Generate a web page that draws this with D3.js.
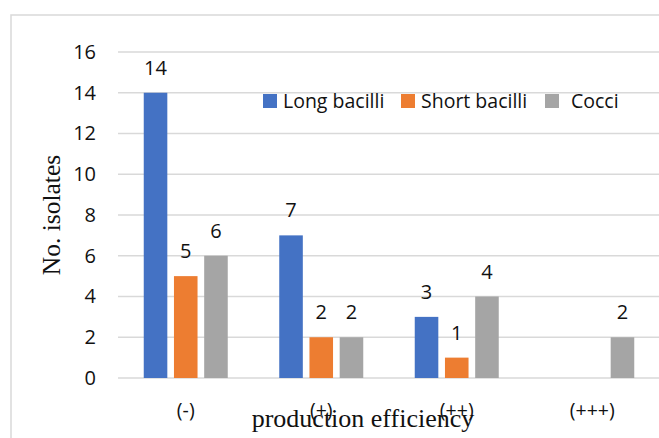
<!DOCTYPE html>
<html><head><meta charset="utf-8">
<script src="https://cdn.jsdelivr.net/npm/d3@7"></script>
<style>body{margin:0;background:#fff}svg{display:block}</style>
</head><body>
<svg id="c" width="659" height="438"></svg>
<script>
const categories = ["(-)", "(+)", "(++)", "(+++)"];
const seriesNames = ["Long bacilli", "Short bacilli", "Cocci"];
const longBacilli = [14, 7, 3, null];
const shortBacilli = [5, 2, 1, null];
const cocci = [6, 2, 4, 2];
const yTicks = [0, 2, 4, 6, 8, 10, 12, 14, 16];
const colors = ["#4472C4", "#ED7D31", "#A5A5A5"];
const series = [longBacilli, shortBacilli, cocci];

const svg = d3.select("#c");
const font = "'Open Sans', Lato, sans-serif";
const serif = "'Liberation Serif', 'DejaVu Serif', serif";
const fs = 19.5;

// chart border
svg.append("rect").attr("x", 11).attr("y", 15).attr("width", 700).attr("height", 500)
  .attr("fill", "none").attr("stroke", "#d9d9d9").attr("stroke-width", 1.5);

const pLeft = 118, pRight = 660, pTop = 52, pBottom = 378;
const y = d3.scaleLinear().domain([0, 16]).range([pBottom, pTop]);
const x0 = d3.scaleBand().domain(categories).range([pLeft, pRight]).paddingInner(0.38).paddingOuter(0.19);
const x1 = d3.scaleBand().domain(seriesNames).range([0, x0.bandwidth()]).paddingInner(0.22);

// gridlines
svg.append("g").selectAll("line").data(yTicks).join("line")
  .attr("x1", pLeft).attr("x2", pRight)
  .attr("y1", d => y(d)).attr("y2", d => y(d))
  .attr("stroke", "#d9d9d9").attr("stroke-width", 1.3);

// y axis labels
const yAxis = d3.axisLeft(y).tickValues(yTicks).tickSize(0).tickPadding(0);
const ya = svg.append("g").attr("transform", `translate(96,0)`).call(yAxis);
ya.select(".domain").remove();
ya.selectAll("text").attr("font-family", font).attr("font-size", 20).attr("fill", "#111");

// x axis labels
const xAxis = d3.axisBottom(x0).tickSize(0).tickPadding(0);
const xa = svg.append("g").attr("transform", `translate(0,${pBottom + 25})`).call(xAxis);
xa.select(".domain").remove();
xa.selectAll("text").attr("font-family", font).attr("font-size", fs).attr("fill", "#111");

// bars
const flat = [];
categories.forEach((c, i) => series.forEach((s, j) => {
  if (s[i] != null) flat.push({c, name: seriesNames[j], v: s[i], color: colors[j]});
}));
svg.append("g").selectAll("rect").data(flat).join("rect")
  .attr("x", d => x0(d.c) + x1(d.name))
  .attr("y", d => y(d.v))
  .attr("width", x1.bandwidth())
  .attr("height", d => y(0) - y(d.v))
  .attr("fill", d => d.color);

// data labels
svg.append("g").selectAll("text").data(flat).join("text")
  .attr("x", d => x0(d.c) + x1(d.name) + x1.bandwidth() / 2)
  .attr("y", d => y(d.v) - 18)
  .attr("text-anchor", "middle")
  .attr("font-family", font).attr("font-size", 20).attr("fill", "#111")
  .text(d => d.v);

// legend
const legendX = [263, 401, 545];
const legendTextX = [283, 421, 571];
const lg = svg.append("g");
seriesNames.forEach((n, j) => {
  lg.append("rect").attr("x", legendX[j]).attr("y", 94).attr("width", 14).attr("height", 14).attr("fill", colors[j]);
  lg.append("text").attr("x", legendTextX[j]).attr("y", 108)
    .attr("font-family", font).attr("font-size", fs).attr("fill", "#111").text(n);
});

// axis titles
svg.append("text").attr("transform", "translate(60,215) rotate(-90)")
  .attr("text-anchor", "middle").attr("font-family", serif).attr("font-size", 25.5).attr("fill", "#111")
  .text("No. isolates");
svg.append("text").attr("x", 363).attr("y", 427)
  .attr("text-anchor", "middle").attr("font-family", serif).attr("font-size", 26).attr("fill", "#111")
  .text("production efficiency");
</script>
</body></html>
